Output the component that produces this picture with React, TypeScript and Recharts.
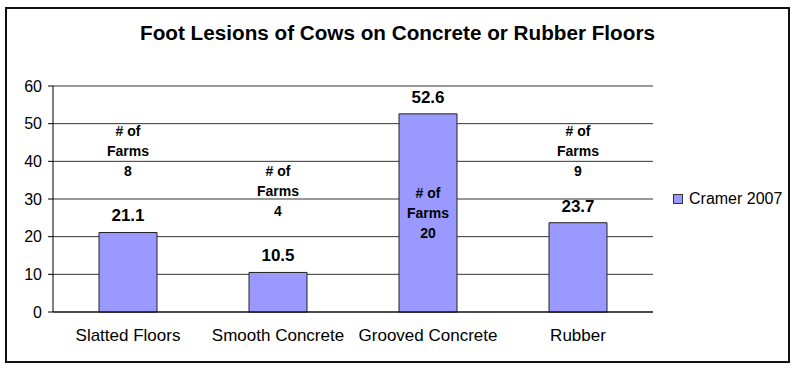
import React from 'react';
import { BarChart, Bar, XAxis, YAxis, CartesianGrid, LabelList, Legend, ReferenceLine } from 'recharts';

const categories = ['Slatted Floors', 'Smooth Concrete', 'Grooved Concrete', 'Rubber'];
const lesionValues = [21.1, 10.5, 52.6, 23.7];
const farmCounts = [8, 4, 20, 9];
const seriesName = 'Cramer 2007';
const yTicks = [0, 10, 20, 30, 40, 50, 60];
const boundaryTicks = [0, 1, 2, 3, 4];
// vertical anchor (data units) of the "# of Farms" note for each bar
const farmNoteLevels = [42.6, 32.2, 26.3, 42.7];

const FONT = '"Liberation Sans", Arial, Helvetica, sans-serif';
const BAR_FILL = '#9999FF';

const data = categories.map((c, i) => ({ category: c, value: lesionValues[i], farms: farmCounts[i] }));

const ValueLabel = (props: any) => {
  const vb = props.viewBox || props;
  const { x, y, width } = vb;
  return (
    <text x={x + width / 2} y={y - 17} dy="0.35em" textAnchor="middle" fontSize={17} fontWeight="bold" fontFamily={FONT} fill="#000">
      {props.value}
    </text>
  );
};

const FarmNote = (props: any) => {
  const vb = props.viewBox || props;
  const { x, y, width, height } = vb;
  const index = props.index ?? 0;
  const v = lesionValues[index];
  const pxPerUnit = height / v;
  const cy = y + height - farmNoteLevels[index] * pxPerUnit;
  const cx = x + width / 2;
  return (
    <text textAnchor="middle" fontSize={14} fontWeight="bold" fontFamily={FONT} fill="#000">
      <tspan x={cx} y={cy - 20} dy="0.35em"># of</tspan>
      <tspan x={cx} y={cy} dy="0.35em">Farms</tspan>
      <tspan x={cx} y={cy + 20} dy="0.35em">{farmCounts[index]}</tspan>
    </text>
  );
};

const LegendContent = () => (
  <div style={{ display: 'flex', alignItems: 'center', fontFamily: FONT, fontSize: 16, color: '#000', whiteSpace: 'nowrap' }}>
    <span style={{ display: 'inline-block', width: 8, height: 8, background: BAR_FILL, border: '1px solid #333', marginRight: 6 }} />
    <span>{seriesName}</span>
  </div>
);

export default function App() {
  return (
    <div style={{ position: 'absolute', left: 5, top: 7, width: 781, height: 352, border: '2px solid #111', background: '#fff', fontFamily: FONT }}>
      <div style={{ position: 'absolute', left: 0, right: 0, top: 12, textAlign: 'center', fontWeight: 'bold', fontSize: 20.7, color: '#000', lineHeight: '24px' }}>
        Foot Lesions of Cows on Concrete or Rubber Floors
      </div>
      <BarChart width={781} height={352} data={data} margin={{ top: 77, right: 135, bottom: 19, left: 0 }}>
        <CartesianGrid horizontal vertical={false} stroke="#333" strokeWidth={1} />
        <XAxis
          xAxisId="bounds"
          type="number"
          domain={[0, 4]}
          ticks={boundaryTicks}
          tick={false}
          tickSize={5}
          tickLine={{ stroke: '#000' }}
          axisLine={{ stroke: '#000' }}
          height={0}
        />
        <XAxis
          dataKey="category"
          tickLine={false}
          axisLine={{ stroke: '#000' }}
          tickMargin={11}
          height={30}
          tick={{ fontSize: 17, fill: '#000', fontFamily: FONT }}
          interval={0}
        />
        <YAxis
          domain={[0, 60]}
          ticks={yTicks}
          width={46}
          tickSize={5}
          tickMargin={6}
          tickLine={{ stroke: '#000' }}
          axisLine={{ stroke: '#000' }}
          tick={{ fontSize: 16, fill: '#000', fontFamily: FONT }}
        />
        <YAxis yAxisId="frame" orientation="right" width={0} tick={false} tickLine={false} axisLine={{ stroke: '#999' }} />
        <ReferenceLine y={60} stroke="#999" />
        <Legend
          layout="horizontal"
          align="center"
          verticalAlign="middle"
          content={<LegendContent />}
          wrapperStyle={{ position: 'absolute', left: 666, top: 181, width: 115 }}
        />
        <Bar dataKey="value" name={seriesName} fill={BAR_FILL} stroke="#222" strokeWidth={1} barSize={58} isAnimationActive={false}>
          <LabelList dataKey="value" content={<ValueLabel />} />
          <LabelList dataKey="farms" content={<FarmNote />} />
        </Bar>
      </BarChart>
    </div>
  );
}
